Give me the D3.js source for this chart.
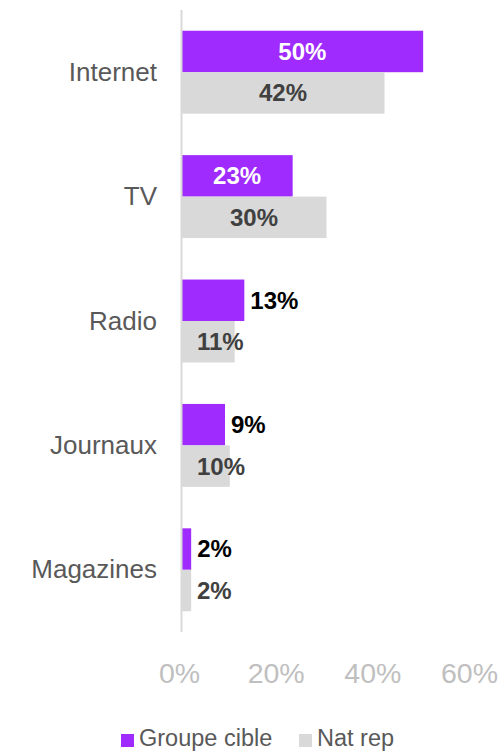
<!DOCTYPE html>
<html>
<head>
<meta charset="utf-8">
<script src="https://cdn.jsdelivr.net/npm/d3@7"></script>
<style>
  body { margin: 0; background: #fff; }
  svg { display: block; font-family: "Liberation Sans", Arial, sans-serif; }
</style>
</head>
<body>
<svg id="chart" width="503" height="753"></svg>
<script>
// data
const categories = ["Internet", "TV", "Radio", "Journaux", "Magazines"];
const seriesNames = ["Groupe cible", "Nat rep"];
const groupeCible = [0.50, 0.23, 0.13, 0.09, 0.02];
const natRep = [0.42, 0.30, 0.11, 0.10, 0.02];
const xTicks = [0, 0.2, 0.4, 0.6];

const colors = {"Groupe cible": "#a02bff", "Nat rep": "#d9d9d9"};

const rows = categories.map((c, i) => ({
  cat: c,
  values: [
    {series: "Groupe cible", value: groupeCible[i]},
    {series: "Nat rep", value: natRep[i]}
  ]
}));

const svg = d3.select("#chart");

const x = d3.scaleLinear().domain([0, 0.6]).range([181.5, 471.5]);
const y = d3.scaleBand().domain(categories).range([10, 632]).padding(0);
const yInner = d3.scaleBand().domain(seriesNames)
  .range([0, y.bandwidth()]).paddingOuter(0.5).paddingInner(0);

const fmt = d3.format(".0%");

// bars
const groups = svg.append("g").selectAll("g")
  .data(rows)
  .enter().append("g")
    .attr("transform", d => "translate(0," + y(d.cat) + ")");

groups.selectAll("rect")
  .data(d => d.values)
  .enter().append("rect")
    .attr("x", x(0))
    .attr("y", d => yInner(d.series))
    .attr("width", d => x(d.value) - x(0))
    .attr("height", yInner.bandwidth())
    .attr("fill", d => colors[d.series]);

// value labels
const labelSize = 24;
groups.selectAll("text")
  .data(d => d.values)
  .enter().append("text")
    .attr("y", d => yInner(d.series) + yInner.bandwidth() / 2)
    .attr("dy", "0.35em")
    .style("font-size", labelSize + "px")
    .style("font-weight", "bold")
    .text(d => fmt(d.value))
    .each(function(d) {
      let t = d3.select(this);
      let w = this.getComputedTextLength();
      let bw = x(d.value) - x(0);
      let fits = bw > w + 20;
      if (d.series == "Groupe cible") {
        if (fits) {
          t.attr("x", x(0) + bw / 2).attr("text-anchor", "middle").attr("fill", "#fff");
        } else {
          t.attr("x", x(d.value) + 6).attr("text-anchor", "start").attr("fill", "#000");
        }
      } else {
        if (fits) {
          t.attr("x", x(0) + bw / 2).attr("text-anchor", "middle");
        } else {
          t.attr("x", x(0) + 15.5).attr("text-anchor", "start");
        }
        t.attr("fill", "#404040");
      }
    });

// vertical axis line
svg.append("line")
  .attr("x1", x(0)).attr("x2", x(0))
  .attr("y1", 10).attr("y2", 632)
  .attr("stroke", "#d9d9d9")
  .attr("stroke-width", 2);

// category labels
svg.append("g").selectAll("text")
  .data(categories)
  .enter().append("text")
    .attr("x", 157)
    .attr("y", d => y(d) + y.bandwidth() / 2)
    .attr("dy", "0.33em")
    .attr("text-anchor", "end")
    .attr("fill", "#595959")
    .style("font-size", "26px")
    .text(d => d);

// x tick labels
svg.append("g").selectAll("text")
  .data(xTicks)
  .enter().append("text")
    .attr("x", d => x(d) - 2)
    .attr("y", 683)
    .attr("text-anchor", "middle")
    .attr("fill", "#bfbfbf")
    .style("font-size", "28.5px")
    .text(d => fmt(d));

// legend (kept just above the bottom edge so descenders are not clipped)
const legendX = [121, 299];
const legend = svg.append("g").selectAll("g")
  .data(seriesNames)
  .enter().append("g")
    .attr("transform", (d, i) => "translate(" + legendX[i] + ",0)");

legend.append("rect")
  .attr("x", 0).attr("y", 734)
  .attr("width", 13).attr("height", 13)
  .attr("fill", d => colors[d]);

legend.append("text")
  .attr("x", 18).attr("y", 746)
  .attr("fill", "#595959")
  .style("font-size", "23.5px")
  .text(d => d);
</script>
</body>
</html>
